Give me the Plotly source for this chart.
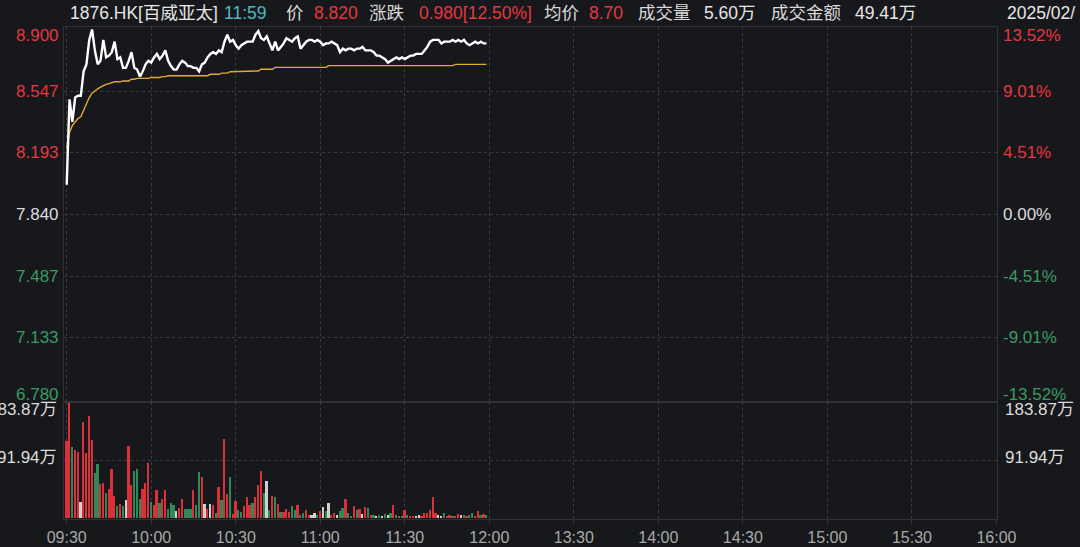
import plotly.graph_objects as go

# ---------------- data ----------------
minute_idx = list(range(150))

price = [8.01, 8.50, 8.37, 8.51, 8.52, 8.52, 8.66, 8.70, 8.84, 8.90,
         8.78, 8.70, 8.72, 8.84, 8.74, 8.75, 8.77, 8.83, 8.73, 8.74,
         8.68, 8.68, 8.72, 8.77, 8.68, 8.67, 8.63, 8.66, 8.70, 8.72,
         8.71, 8.74, 8.76, 8.73, 8.75, 8.78, 8.72, 8.69, 8.67, 8.67,
         8.70, 8.72, 8.71, 8.69, 8.69, 8.68, 8.68, 8.66, 8.70, 8.71,
         8.74, 8.76, 8.77, 8.76, 8.78, 8.77, 8.83, 8.87, 8.83, 8.84,
         8.81, 8.79, 8.81, 8.82, 8.83, 8.83, 8.83, 8.87, 8.89, 8.85,
         8.84, 8.86, 8.82, 8.78, 8.83, 8.78, 8.80, 8.82, 8.85, 8.84,
         8.83, 8.85, 8.86, 8.79, 8.81, 8.83, 8.84, 8.84, 8.83, 8.84,
         8.83, 8.81, 8.82, 8.82, 8.83, 8.82, 8.81, 8.77, 8.79, 8.78,
         8.79, 8.79, 8.78, 8.79, 8.79, 8.80, 8.78, 8.78, 8.78, 8.77,
         8.75, 8.75, 8.74, 8.73, 8.71, 8.72, 8.73, 8.74, 8.73, 8.74,
         8.73, 8.74, 8.75, 8.75, 8.76, 8.76, 8.76, 8.78, 8.80, 8.83,
         8.84, 8.84, 8.84, 8.82, 8.83, 8.83, 8.83, 8.84, 8.83, 8.84,
         8.83, 8.84, 8.82, 8.81, 8.82, 8.83, 8.82, 8.83, 8.82, 8.82]

avg_price = [8.22, 8.31, 8.35, 8.37, 8.39, 8.40, 8.44, 8.47, 8.51, 8.535,
             8.55, 8.56, 8.57, 8.58, 8.585, 8.59, 8.595, 8.60, 8.60, 8.60,
             8.605, 8.605, 8.605, 8.615, 8.615, 8.62, 8.62, 8.62, 8.62, 8.62,
             8.625, 8.625, 8.625, 8.625, 8.63, 8.63, 8.635, 8.635, 8.635, 8.635,
             8.635, 8.635, 8.635, 8.635, 8.635, 8.635, 8.635, 8.635, 8.635, 8.635,
             8.635, 8.643, 8.643, 8.643, 8.643, 8.65, 8.65, 8.65, 8.658, 8.658,
             8.658, 8.658, 8.658, 8.658, 8.658, 8.658, 8.662, 8.662, 8.662, 8.672,
             8.672, 8.672, 8.672, 8.672, 8.683, 8.683, 8.683, 8.683, 8.683, 8.683,
             8.683, 8.683, 8.683, 8.683, 8.683, 8.683, 8.683, 8.683, 8.683, 8.683,
             8.683, 8.683, 8.683, 8.693, 8.693, 8.693, 8.693, 8.693, 8.693, 8.693,
             8.693, 8.693, 8.693, 8.693, 8.693, 8.693, 8.693, 8.693, 8.693, 8.693,
             8.693, 8.693, 8.693, 8.693, 8.693, 8.693, 8.693, 8.693, 8.693, 8.693,
             8.693, 8.693, 8.693, 8.693, 8.693, 8.693, 8.693, 8.693, 8.693, 8.693,
             8.693, 8.693, 8.693, 8.693, 8.693, 8.693, 8.693, 8.693, 8.70, 8.70,
             8.70, 8.70, 8.70, 8.70, 8.70, 8.70, 8.70, 8.70, 8.70, 8.70]

volume_wan = [122.6, 183.4, 113.5, 109.2, 104.9, 25.8, 153.8, 103.8, 162.4, 125.3,
              71.5, 86.6, 53.8, 56.5, 40.3, 45.7, 78.0, 35.0, 18.8, 22.0,
              18.8, 28.5, 114.5, 52.7, 75.3, 78.0, 29.6, 45.7, 56.5, 88.7,
              25.8, 20.4, 44.6, 24.2, 29.6, 44.6, 15.1, 24.7, 21.5, 11.8,
              16.1, 29.6, 15.1, 14.0, 14.0, 44.6, 21.5, 74.2, 66.1, 22.0,
              14.0, 22.0, 20.4, 8.1, 50.0, 28.5, 126.4, 38.2, 66.1, 5.9,
              26.9, 12.4, 9.7, 18.8, 33.9, 21.5, 24.7, 32.8, 52.7, 75.3,
              40.3, 59.1, 12.4, 35.0, 33.9, 22.0, 9.7, 9.7, 14.0, 9.7,
              18.8, 12.4, 20.4, 5.4, 8.6, 12.4, 5.4, 4.3, 8.6, 5.4,
              10.8, 17.2, 10.8, 24.7, 5.4, 8.6, 4.3, 10.8, 16.1, 29.6,
              8.6, 3.2, 19.9, 12.4, 14.0, 7.0, 17.7, 16.1, 4.3, 4.3,
              2.7, 4.3, 2.7, 5.9, 4.3, 8.6, 20.4, 5.4, 3.2, 3.2,
              12.4, 4.3, 2.7, 3.2, 3.2, 5.4, 3.2, 8.6, 8.6, 12.4,
              33.9, 8.6, 4.3, 2.7, 8.6, 3.2, 4.3, 2.7, 3.2, 7.0,
              5.4, 4.3, 3.2, 4.3, 8.1, 3.2, 10.8, 4.3, 7.0, 4.3]

volume_dir = ["r", "r", "g", "r", "r", "w", "r", "r", "r", "r",
              "g", "g", "r", "r", "g", "r", "r", "r", "g", "r",
              "g", "w", "r", "r", "g", "g", "g", "r", "r", "r",
              "g", "r", "r", "g", "r", "r", "g", "g", "g", "w",
              "r", "r", "g", "g", "g", "r", "g", "g", "r", "w",
              "r", "w", "r", "g", "r", "g", "r", "r", "g", "r",
              "r", "g", "g", "r", "r", "r", "g", "r", "r", "r",
              "g", "w", "g", "r", "g", "r", "g", "r", "r", "r",
              "g", "g", "r", "g", "g", "r", "r", "w", "w", "g",
              "r", "w", "g", "w", "r", "r", "w", "g", "g", "r",
              "g", "g", "r", "g", "r", "w", "r", "g", "r", "g",
              "w", "g", "w", "g", "w", "g", "r", "g", "r", "g",
              "r", "g", "r", "r", "w", "w", "r", "r", "r", "r",
              "r", "r", "w", "w", "g", "r", "r", "g", "r", "r",
              "w", "g", "r", "g", "g", "r", "r", "g", "r", "g"]

time_ticks = [0, 30, 60, 90, 120, 150, 180, 210, 240, 270, 300, 330]
time_labels = ["09:30", "10:00", "10:30", "11:00", "11:30", "12:00",
               "13:30", "14:00", "14:30", "15:00", "15:30", "16:00"]

price_levels = [8.900, 8.547, 8.193, 7.840, 7.487, 7.133, 6.780]
price_labels = ["8.900", "8.547", "8.193", "7.840", "7.487", "7.133", "6.780"]
pct_labels = ["13.52%", "9.01%", "4.51%", "0.00%", "-4.51%", "-9.01%", "-13.52%"]
vol_levels = [183.87, 91.94]
vol_labels = ["183.87万", "91.94万"]

header = [("1876.HK[百威亚太]", 68, "#e6e6e6"), ("11:59", 222, "#4fb8bd"),
          ("价", 284, "#d8d8d8"), ("8.820", 312, "#e5373f"),
          ("涨跌", 367, "#d8d8d8"), ("0.980[12.50%]", 417, "#e5373f"),
          ("均价", 542, "#d8d8d8"), ("8.70", 587, "#e5373f"),
          ("成交量", 636, "#d8d8d8"), ("5.60万", 702, "#e6e6e6"),
          ("成交金额", 769, "#d8d8d8"), ("49.41万", 853, "#e6e6e6"),
          ("2025/02/", 1005, "#e6e6e6")]

# ---------------- style ----------------
BG = "#17181c"
RED = "#e5373f"
GREEN = "#3b9a64"
NEUTRAL = "#dcdcdc"
GRID = "#3a3c41"
BORDER = "#303237"
FONT = "Liberation Sans, Arial, Noto Sans CJK SC, sans-serif"
W, H = 1080, 547
ML, MR, MT, MB = 64, 83, 27, 28
PW, PH = W - ML - MR, H - MT - MB
split = (H - MB - 402) / PH

bar_colors = {"r": "#d9303a", "g": "#2f8a57", "w": "#d0d0d0"}

fig = go.Figure()
fig.add_trace(go.Bar(x=minute_idx, y=volume_wan, xaxis="x2", yaxis="y2",
                     marker=dict(color=[bar_colors[d] for d in volume_dir], line=dict(width=0)),
                     width=0.62, showlegend=False, hoverinfo="skip"))
fig.add_trace(go.Scatter(x=minute_idx, y=avg_price, mode="lines",
                         line=dict(color="#e3a935", width=1.4), showlegend=False, hoverinfo="skip"))
fig.add_trace(go.Scatter(x=minute_idx, y=price, mode="lines",
                         line=dict(color="#ffffff", width=2.4), showlegend=False, hoverinfo="skip"))

xrange = [-0.96, 330.2]
common_x = dict(range=xrange, tickvals=time_ticks, showgrid=True, gridcolor=GRID,
                griddash="dot", gridwidth=1, zeroline=False, showline=True,
                linecolor=BORDER, mirror=True, automargin=False)
common_y = dict(showticklabels=False, showgrid=True, gridcolor=GRID, griddash="dot",
                zeroline=False, showline=True, linecolor=BORDER, mirror=True,
                automargin=False)
fig.update_layout(
    width=W, height=H, paper_bgcolor=BG, plot_bgcolor=BG,
    margin=dict(l=ML, r=MR, t=MT, b=MB, autoexpand=False),
    font=dict(family=FONT, size=16, color=NEUTRAL),
    bargap=0,
    xaxis=dict(anchor="y", showticklabels=False, **common_x),
    xaxis2=dict(anchor="y2", matches="x", ticktext=time_labels, showticklabels=True,
                ticks="outside", ticklen=4, tickcolor=BORDER,
                tickfont=dict(size=16, color="#a8a8a8", family=FONT), **common_x),
    yaxis=dict(domain=[split, 1], range=[6.766, 8.914],
               tickvals=[8.547, 8.193, 7.840, 7.487, 7.133], **common_y),
    yaxis2=dict(domain=[0, split], range=[-1.6, 185.5], tickvals=[91.94], **common_y),
)

AX_FS = 17
HD_FS = 17.5
ann = []
base = 7.840
for lv, lt, pt in zip(price_levels, price_labels, pct_labels):
    col = RED if lv > base + 1e-9 else (GREEN if lv < base - 1e-9 else NEUTRAL)
    shift = -6 if lv == price_levels[0] else (5 if lv == price_levels[-1] else 0)
    ann.append(dict(text=lt, x=0, xref="paper", y=lv, yref="y", xanchor="right",
                    yanchor="middle", xshift=-3, yshift=shift, showarrow=False,
                    font=dict(color=col, size=AX_FS, family=FONT)))
    ann.append(dict(text=pt, x=1, xref="paper", y=lv, yref="y", xanchor="left",
                    yanchor="middle", xshift=4, yshift=shift, showarrow=False,
                    font=dict(color=col, size=AX_FS, family=FONT)))
for lv, lt in zip(vol_levels, vol_labels):
    shift = -6 if lv == vol_levels[0] else 3
    ann.append(dict(text=lt, x=0, xref="paper", y=lv, yref="y2", xanchor="right",
                    yanchor="middle", xshift=-5, yshift=shift, showarrow=False,
                    font=dict(color=NEUTRAL, size=AX_FS, family=FONT)))
    ann.append(dict(text=lt, x=1, xref="paper", y=lv, yref="y2", xanchor="left",
                    yanchor="middle", xshift=6, yshift=shift, showarrow=False,
                    font=dict(color=NEUTRAL, size=AX_FS, family=FONT)))
for txt, px, col in header:
    ann.append(dict(text=txt, x=(px - ML) / PW, xref="paper", y=(H - MB - 13) / PH,
                    yref="paper", xanchor="left", yanchor="middle", showarrow=False,
                    font=dict(color=col, size=HD_FS, family=FONT)))
fig.update_layout(annotations=ann)

fig.write_html("out.html",
               config={"displayModeBar": False},
               post_script="document.body.style.margin='0';"
                           "document.body.style.background='#17181c';")
